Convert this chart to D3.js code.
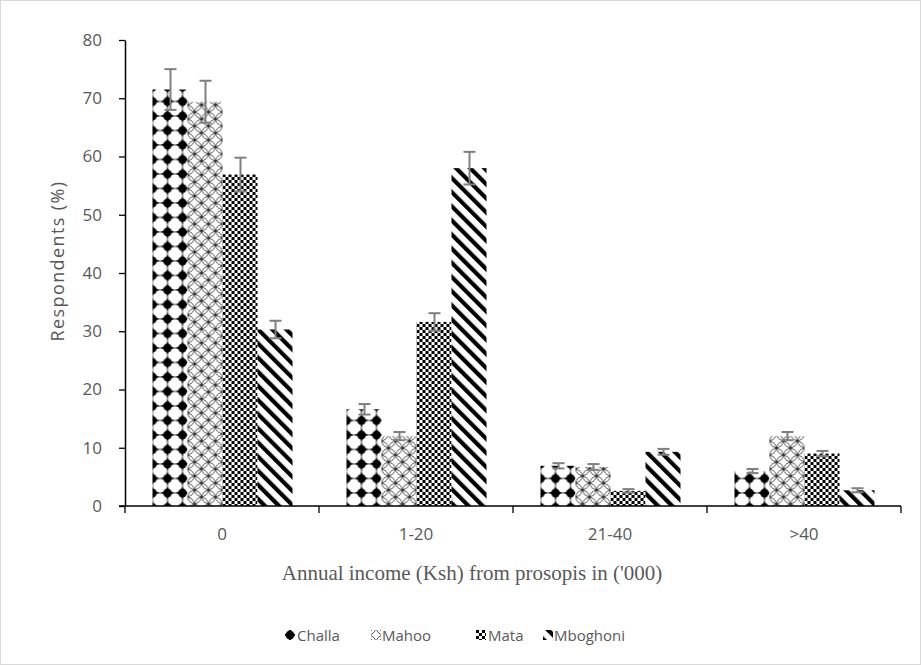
<!DOCTYPE html>
<html>
<head>
<meta charset="utf-8">
<script src="https://cdn.jsdelivr.net/npm/d3@7"></script>
<style>
  html, body { margin: 0; padding: 0; background: #fff; }
  svg { display: block; }
</style>
</head>
<body>
<svg id="chart" width="921" height="665"></svg>
<script>
// ---- data ----
const categories = ["0", "1-20", "21-40", ">40"];
const series = ["Challa", "Mahoo", "Mata", "Mboghoni"];
const challa   = [71.5, 16.6, 6.9, 6.0];
const mahoo    = [69.4, 12.0, 6.7, 12.0];
const mata     = [56.9, 31.6, 2.6, 9.0];
const mboghoni = [30.3, 58.0, 9.3, 2.7];
const challaErr   = [3.5, 0.9, 0.45, 0.35];
const mahooErr    = [3.6, 0.7, 0.5, 0.7];
const mataErr     = [2.9, 1.5, 0.3, 0.45];
const mboghoniErr = [1.5, 2.8, 0.5, 0.35];
const yTicks = [0, 10, 20, 30, 40, 50, 60, 70, 80];
const xTitle = "Annual income (Ksh) from prosopis in ('000)";
const yTitle = "Respondents (%)";

const values = [challa, mahoo, mata, mboghoni];
const errors = [challaErr, mahooErr, mataErr, mboghoniErr];
const kinds = ["challa", "mahoo", "mata", "mboghoni"];

const svg = d3.select("#chart");

svg.append("rect").attr("x", 0.5).attr("y", 0.5).attr("width", 920).attr("height", 664)
  .attr("fill", "#fff").attr("stroke", "#d9d9d9").attr("stroke-width", 1);

// ---- patterns ----
const defs = svg.append("defs");
function makePattern(id, kind, ox, oy) {
  if (kind === "challa") {
    const w = 15, h = 14.5;
    const p = defs.append("pattern").attr("id", id).attr("patternUnits", "userSpaceOnUse")
      .attr("width", w).attr("height", h).attr("x", ox).attr("y", oy);
    p.append("rect").attr("width", w).attr("height", h).attr("fill", "#000");
    p.append("ellipse").attr("cx", w / 2).attr("cy", h / 2).attr("rx", 7.2).attr("ry", 7.0).attr("fill", "#fff");
    [[0,0],[w,0],[0,h],[w,h]].forEach(([cx, cy]) =>
      p.append("circle").attr("cx", cx).attr("cy", cy).attr("r", 4.3).attr("fill", "#000"));
  } else if (kind === "mahoo") {
    const s = 14;
    const p = defs.append("pattern").attr("id", id).attr("patternUnits", "userSpaceOnUse")
      .attr("width", s).attr("height", s).attr("x", ox).attr("y", oy);
    p.append("rect").attr("width", s).attr("height", s).attr("fill", "#fff");
    [[0,0],[s,0],[0,s],[s,s],[s/2,s/2]].forEach(([cx, cy]) =>
      p.append("circle").attr("cx", cx).attr("cy", cy).attr("r", s/2 - 0.4)
        .attr("fill", "none").attr("stroke", "#222").attr("stroke-width", 0.8));
  } else if (kind === "mata") {
    const p = defs.append("pattern").attr("id", id).attr("patternUnits", "userSpaceOnUse")
      .attr("width", 6).attr("height", 6).attr("x", ox).attr("y", oy);
    p.append("rect").attr("width", 6).attr("height", 6).attr("fill", "#fff");
    p.append("rect").attr("x", 0).attr("y", 0).attr("width", 3).attr("height", 3).attr("fill", "#000");
    p.append("rect").attr("x", 3).attr("y", 3).attr("width", 3).attr("height", 3).attr("fill", "#000");
  } else {
    const p = defs.append("pattern").attr("id", id).attr("patternUnits", "userSpaceOnUse")
      .attr("width", 10).attr("height", 10).attr("x", ox).attr("y", oy)
      .attr("patternTransform", "rotate(-45)");
    p.append("rect").attr("width", 10).attr("height", 10).attr("fill", "#fff");
    p.append("rect").attr("x", 0).attr("y", 0).attr("width", 4.2).attr("height", 10).attr("fill", "#000");
  }
}

// ---- scales ----
const plotLeft = 125, plotRight = 901, plotTop = 40, plotBottom = 506;
const x0 = d3.scaleBand().domain(categories).range([plotLeft, plotRight]).padding(0);
const x1 = d3.scaleBand().domain(series).range([27.5, 167.5]).padding(0);
const y = d3.scaleLinear().domain([0, 80]).range([plotBottom, plotTop]);

categories.forEach((cat, ci) => {
  series.forEach((s, si) => {
    makePattern(`p${si}_${ci}`, kinds[si], x0(cat) + x1(s), 0);
  });
});

// ---- bars ----
const g = svg.append("g");
categories.forEach((cat, ci) => {
  series.forEach((s, si) => {
    const v = values[si][ci];
    g.append("rect")
      .attr("x", x0(cat) + x1(s))
      .attr("y", y(v))
      .attr("width", x1.bandwidth())
      .attr("height", y(0) - y(v))
      .attr("fill", `url(#p${si}_${ci})`);
  });
});

// ---- error bars ----
const eg = svg.append("g").attr("stroke", "#7f7f7f").attr("stroke-width", 2).attr("fill", "none");
categories.forEach((cat, ci) => {
  series.forEach((s, si) => {
    const v = values[si][ci], e = errors[si][ci];
    const cx = Math.round(x0(cat) + x1(s) + x1.bandwidth() / 2) + 0.5;
    const yt = y(v + e), yb = y(v - e);
    eg.append("line").attr("x1", cx).attr("x2", cx).attr("y1", yt).attr("y2", yb);
    eg.append("line").attr("x1", cx - 6).attr("x2", cx + 6).attr("y1", yt).attr("y2", yt);
    eg.append("line").attr("x1", cx - 6).attr("x2", cx + 6).attr("y1", yb).attr("y2", yb);
  });
});

// ---- axes ----
const fontSans = "'Open Sans', 'Noto Sans', sans-serif";
const yAxis = svg.append("g").attr("transform", `translate(${plotLeft},0)`)
  .call(d3.axisLeft(y).tickValues(yTicks).tickSize(6).tickPadding(17).tickSizeOuter(0));
yAxis.select(".domain").attr("stroke", "#000").attr("stroke-width", 1.5);
yAxis.selectAll(".tick line").attr("stroke", "#000").attr("stroke-width", 1.3);
yAxis.selectAll(".tick text").attr("fill", "#595959")
  .style("font-family", fontSans).style("font-size", "17px");

const xAxis = svg.append("g").attr("transform", `translate(0,${plotBottom})`);
xAxis.append("line").attr("x1", plotLeft - 6).attr("x2", plotRight).attr("y1", 0).attr("y2", 0)
  .attr("stroke", "#000").attr("stroke-width", 1.5);
categories.forEach((cat) => {
  const bx = x0(cat) + x0.bandwidth();
  xAxis.append("line").attr("x1", bx).attr("x2", bx).attr("y1", 0).attr("y2", 7)
    .attr("stroke", "#000").attr("stroke-width", 1.3);
});
xAxis.append("line").attr("x1", plotLeft).attr("x2", plotLeft).attr("y1", 0).attr("y2", 7)
  .attr("stroke", "#000").attr("stroke-width", 1.3);
categories.forEach((cat) => {
  xAxis.append("text")
    .attr("x", x0(cat) + x0.bandwidth() / 2)
    .attr("y", 34)
    .attr("text-anchor", "middle")
    .attr("fill", "#595959")
    .style("font-family", fontSans).style("font-size", "17px")
    .text(cat);
});

svg.append("text")
  .attr("x", 472)
  .attr("y", 580)
  .attr("text-anchor", "middle")
  .attr("fill", "#595959")
  .style("font-family", "'Liberation Serif', 'Times New Roman', serif").style("font-size", "21px")
  .text(xTitle);

svg.append("text")
  .attr("transform", `translate(64,261) rotate(-90)`)
  .attr("text-anchor", "middle")
  .attr("fill", "#595959")
  .style("font-family", fontSans).style("font-size", "18px").style("letter-spacing", "1.4px")
  .text(yTitle);

// ---- legend ----
const legendMarkX = [285, 371, 476, 543];
const legendTextX = [297, 382, 488, 554];
const legendY = 641;
const legendOffsets = [[5, 5], [-2, -2], [0, 0], [-3, 0]];
series.forEach((s, si) => {
  const mx = legendMarkX[si], my = legendY - 11;
  makePattern(`leg${si}`, kinds[si], mx + legendOffsets[si][0], my + legendOffsets[si][1]);
  svg.append("rect").attr("x", mx).attr("y", my).attr("width", 10).attr("height", 10)
    .attr("fill", `url(#leg${si})`);
  svg.append("text").attr("x", legendTextX[si]).attr("y", legendY)
    .attr("fill", "#595959")
    .style("font-family", fontSans).style("font-size", "15px")
    .text(s);
});
</script>
</body>
</html>
